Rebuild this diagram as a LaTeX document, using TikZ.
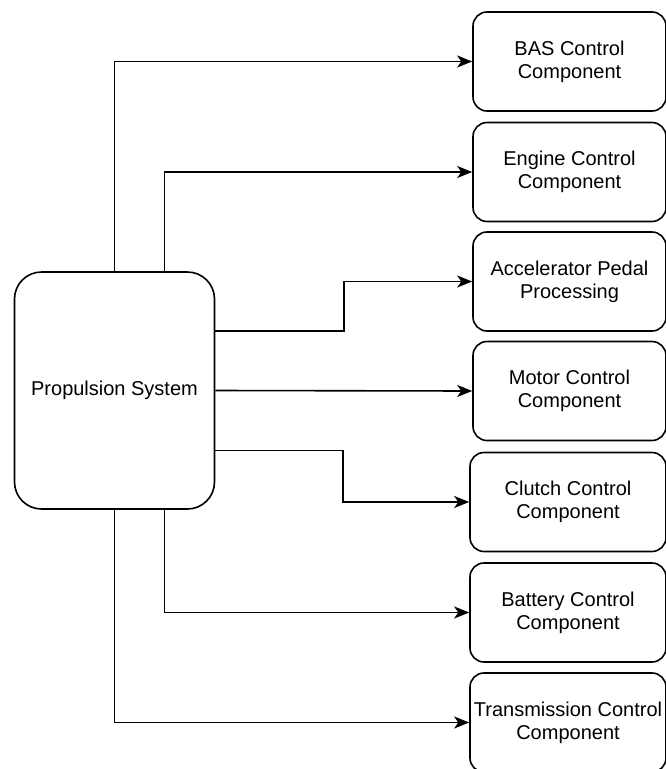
\documentclass[tikz,border=0pt]{standalone}
\usepackage{fontspec}
\setmainfont{Liberation Sans}
\usetikzlibrary{arrows.meta}
\begin{document}
\begin{tikzpicture}[x=1pt,y=-1pt,
  every node/.style={font=\fontsize{20}{23}\selectfont, align=center, inner sep=0pt},
  comp/.style={draw=black, line width=1.6pt, rounded corners=14pt,
               minimum width=193pt, minimum height=99pt},
  wide/.style={comp, minimum width=196pt},
  sys/.style={draw=black, line width=1.6pt, rounded corners=27pt,
              minimum width=200pt, minimum height=237pt},
  link/.style={draw=black, line width=1.6pt,
               -{Stealth[length=15pt,width=12pt,inset=4pt]}}]
  \useasboundingbox (0,0) rectangle (666,769);
  \clip (0,0) rectangle (666,769);

  % system block
  \node[sys] (ps) at (114.5,390.5) {Propulsion System};

  % component blocks
  \node[comp] (bas) at (569.5,61.5)  {BAS Control\\Component};
  \node[comp] (eng) at (569.5,172)   {Engine Control\\Component};
  \node[comp] (acc) at (569.5,281.5) {Accelerator Pedal\\Processing};
  \node[comp] (mot) at (569.5,391)   {Motor Control\\Component};
  \node[wide] (clu) at (568,502)     {Clutch Control\\Component};
  \node[wide] (bat) at (568,612.5)   {Battery Control\\Component};
  \node[wide] (trn) at (568,722.5)   {Transmission Control\\Component};

  % connectors
  \draw[link] (ps.north) |- (bas.west);
  \draw[link] ([xshift=50pt]ps.north) |- (eng.west);
  \draw[link] ([yshift=59.5pt]ps.east) -- ++(128.5,0) |- (acc.west);
  \draw[link] (ps.east) -- (mot.west);
  \draw[link] ([yshift=-60pt]ps.east) -- ++(127.5,0) |- (clu.west);
  \draw[link] ([xshift=50pt]ps.south) |- (bat.west);
  \draw[link] (ps.south) |- (trn.west);
\end{tikzpicture}
\end{document}
